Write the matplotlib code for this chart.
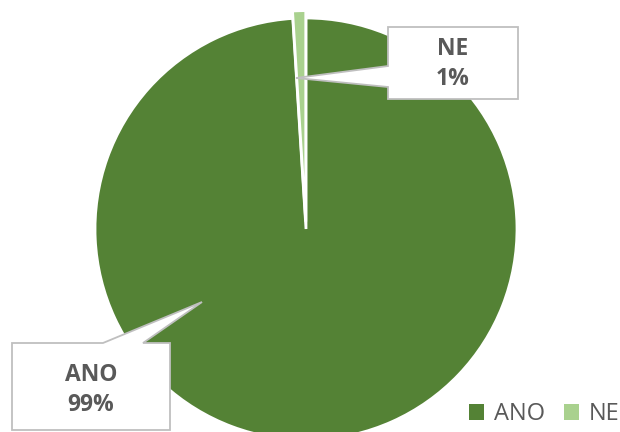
import matplotlib.pyplot as plt
from matplotlib.patches import Polygon

labels = ["ANO", "NE"]
values = [99, 1]
colors = ["#548235", "#A9D18E"]
explode = [0, 0.035]

# pie center and radius in pixels
CX, CY, R = 306, 229, 211
W, H = 620, 432


def px(x, y):
    # pixel (from top-left) to data coords
    return ((x - CX) / R, (CY - y) / R)


fig = plt.figure(figsize=(6.2, 4.32), dpi=100)
ax = fig.add_axes([0, 0, 1, 1])

wedges, _ = ax.pie(values, colors=colors, startangle=90, counterclock=False,
                   explode=explode, radius=1,
                   wedgeprops=dict(edgecolor="white", linewidth=2))

ax.set_xlim(-CX / R, (W - CX) / R)
ax.set_ylim(-(H - CY) / R, CY / R)
ax.set_aspect("auto")
ax.axis("off")

# callout boxes
ne_box = [px(388, 27), px(518, 27), px(518, 99), px(388, 99),
          px(388, 87), px(296, 78), px(388, 66)]
ano_box = [px(12, 343), px(103, 343), px(202, 302), px(143, 343),
           px(170, 343), px(170, 430), px(12, 430)]
for pts in (ne_box, ano_box):
    ax.add_patch(Polygon(pts, closed=True, facecolor="white",
                         edgecolor="#BFBFBF", linewidth=1.3, zorder=5))

pct = [f"{v}%" for v in values]
txt = dict(ha="center", va="center", color="#595959", fontsize=16.5,
           fontweight="bold", family="Open Sans", zorder=6, linespacing=1.35)
ax.text(*px(453, 64), f"{labels[1]}\n{pct[1]}", **txt)
ax.text(*px(91, 390), f"{labels[0]}\n{pct[0]}", **txt)

leg = ax.legend(wedges, labels, loc="lower right",
                bbox_to_anchor=(619 / W, 6 / H),
                frameon=False, ncol=2, handlelength=0.65, handleheight=0.65,
                handletextpad=0.4, columnspacing=0.8, borderpad=0,
                borderaxespad=0,
                prop=dict(family="Open Sans", size=17))
for t in leg.get_texts():
    t.set_color("#595959")
for h in leg.legend_handles:
    h.set_edgecolor("none")

fig.savefig("out.png", dpi=100)
